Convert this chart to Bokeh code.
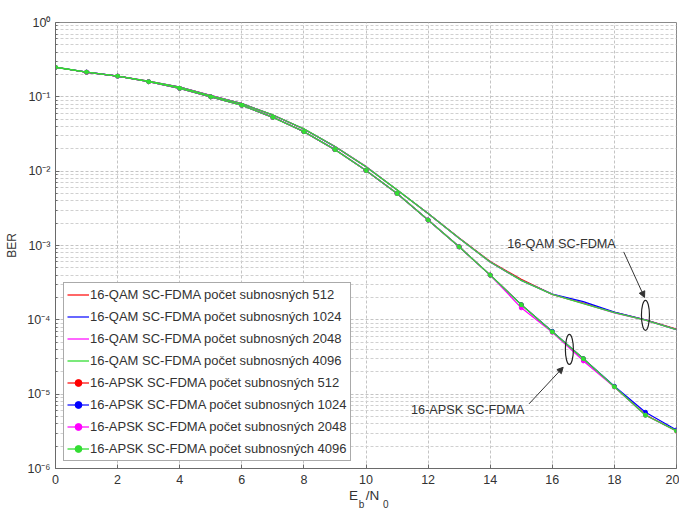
from bokeh.plotting import figure
from bokeh.models import (FixedTicker, CustomJSTickFormatter, Legend, LegendItem,
                          Label, Arrow, NormalHead, Range1d, LinearAxis)
from bokeh.embed import file_html
from bokeh.resources import INLINE

# ---------------- data ----------------
ebn0 = list(range(21))

qam_512 = [0.25, 0.214, 0.19, 0.162, 0.135, 0.104, 0.081, 0.057, 0.037, 0.0215, 0.0115,
           0.0056, 0.0027, 0.00126, 0.00061, 0.00035, 0.00022, 0.000168, 0.000126, 0.0001, 0.000075]
qam_1024 = [0.25, 0.215, 0.19, 0.162, 0.135, 0.104, 0.081, 0.057, 0.037, 0.0214, 0.0115,
            0.0056, 0.0027, 0.00125, 0.0006, 0.00034, 0.000222, 0.000176, 0.000127, 0.0001, 0.000074]
qam_2048 = [0.25, 0.215, 0.19, 0.163, 0.135, 0.105, 0.081, 0.057, 0.037, 0.0215, 0.0116,
            0.0056, 0.0027, 0.00125, 0.0006, 0.00034, 0.00022, 0.000166, 0.000124, 0.000099, 0.000074]
qam_4096 = [0.25, 0.215, 0.19, 0.162, 0.135, 0.104, 0.081, 0.057, 0.037, 0.0215, 0.0115,
            0.0056, 0.0027, 0.00125, 0.0006, 0.00034, 0.00022, 0.000165, 0.000125, 0.000099, 0.000074]

apsk_512 = [0.25, 0.214, 0.19, 0.16, 0.13, 0.1, 0.077, 0.053, 0.034, 0.0195, 0.0102,
            0.005, 0.0022, 0.00096, 0.0004, 0.00016, 0.000069, 0.00003, 0.0000126, 0.0000053, 0.0000032]
apsk_1024 = [0.25, 0.215, 0.19, 0.16, 0.13, 0.1, 0.077, 0.053, 0.034, 0.0195, 0.0102,
             0.005, 0.0022, 0.00096, 0.0004, 0.00016, 0.00007, 0.00003, 0.0000128, 0.0000057, 0.0000033]
apsk_2048 = [0.25, 0.215, 0.19, 0.16, 0.13, 0.1, 0.077, 0.053, 0.034, 0.0195, 0.0102,
             0.005, 0.0022, 0.00096, 0.0004, 0.000145, 0.000068, 0.000028, 0.0000125, 0.0000052, 0.0000032]
apsk_4096 = [0.25, 0.215, 0.19, 0.16, 0.13, 0.1, 0.077, 0.053, 0.034, 0.0195, 0.0102,
             0.005, 0.0022, 0.00096, 0.0004, 0.00016, 0.000069, 0.00003, 0.0000126, 0.0000052, 0.0000032]

labels_qam = ["16-QAM SC-FDMA počet subnosných 512", "16-QAM SC-FDMA počet subnosných 1024",
              "16-QAM SC-FDMA počet subnosných 2048", "16-QAM SC-FDMA počet subnosných 4096"]
labels_apsk = ["16-APSK SC-FDMA počet subnosných 512", "16-APSK SC-FDMA počet subnosných 1024",
               "16-APSK SC-FDMA počet subnosných 2048", "16-APSK SC-FDMA počet subnosných 4096"]
colors = ["#ff0000", "#0000ff", "#ff00ff", "#33dd33"]

y_major = [1e-6, 1e-5, 1e-4, 1e-3, 1e-2, 1e-1, 1e0]
y_minor = [k * d for d in y_major[:-1] for k in range(2, 10)]
x_ticks = list(range(0, 21, 2))

# x axis label pieces: "E_b/N_0"
xlabel_main = ["E", "/N"]
xlabel_sub = ["b", "0"]

FONT = "Liberation Sans"

p = figure(width=679, height=512, y_axis_type="log",
           x_range=Range1d(0, 20), y_range=Range1d(1e-6, 1),
           output_backend="svg", toolbar_location=None,
           min_border_left=55, min_border_right=3, min_border_top=22, min_border_bottom=10)
p.background_fill_color = "white"
p.border_fill_color = "white"
p.outline_line_color = "#8a8a8a"

# grids
for g in (p.xgrid, p.ygrid):
    g.grid_line_color = "#c4c4c4"
    g.grid_line_dash = "3 2"
    g.grid_line_width = 1
p.ygrid.minor_grid_line_color = "#d0d0d0"
p.ygrid.minor_grid_line_dash = "3 2"

# axes
p.xaxis.ticker = FixedTicker(ticks=x_ticks)
p.yaxis.ticker = FixedTicker(ticks=y_major, minor_ticks=y_minor)
p.yaxis.formatter = CustomJSTickFormatter(code="""
const e = Math.round(Math.log10(tick));
const sup = {'-':'\u207b','0':'\u2070','1':'\u00b9','2':'\u00b2','3':'\u00b3','4':'\u2074',
             '5':'\u2075','6':'\u2076','7':'\u2077','8':'\u2078','9':'\u2079'};
return '10' + String(e).split('').map(c => sup[c]).join('');
""")
for ax in (p.xaxis, p.yaxis):
    ax.major_tick_in = 4
    ax.major_tick_out = 0
    ax.minor_tick_in = 2
    ax.minor_tick_out = 0
    ax.axis_line_color = "#6a6a6a"
    ax.major_tick_line_color = "#6a6a6a"
    ax.minor_tick_line_color = "#6a6a6a"
    ax.major_label_text_font = FONT
    ax.major_label_text_font_size = "12.5px"
    ax.major_label_text_color = "#333333"
p.yaxis.axis_label = "BER"
p.yaxis.axis_label_text_font = FONT
p.yaxis.axis_label_text_font_size = "12px"
p.yaxis.axis_label_text_font_style = "normal"
p.yaxis.axis_label_text_color = "#333333"
p.xaxis.major_label_standoff = 6

# x axis label built from two extra, line-less axes (main letters + subscripts)
def label_axis(ticks, texts, size, standoff):
    ax = LinearAxis(ticker=FixedTicker(ticks=ticks, minor_ticks=[]),
                    formatter=CustomJSTickFormatter(args=dict(t=texts), code="return t[index];"))
    ax.axis_line_color = None
    ax.major_tick_line_color = None
    ax.minor_tick_line_color = None
    ax.major_tick_in = 0
    ax.major_tick_out = 0
    ax.minor_tick_in = 0
    ax.minor_tick_out = 0
    ax.major_label_standoff = standoff
    ax.major_label_text_font = FONT
    ax.major_label_text_font_size = size
    ax.major_label_text_color = "#333333"
    return ax

p.add_layout(label_axis([9.6, 10.21], xlabel_main, "13.5px", 1), "below")
p.add_layout(label_axis([9.86, 10.64], xlabel_sub, "10px", -7), "below")

# lines
qam_sets = [qam_512, qam_1024, qam_2048, qam_4096]
apsk_sets = [apsk_512, apsk_1024, apsk_2048, apsk_4096]
qam_r = [None] * 4
apsk_r = [None] * 4
for i in (0, 1, 2):
    qam_r[i] = [p.line(ebn0, qam_sets[i], line_color=colors[i], line_width=1.2)]
for i in (0, 1, 2):
    l = p.line(ebn0, apsk_sets[i], line_color=colors[i], line_width=1.2)
    s = p.scatter(ebn0, apsk_sets[i], marker="circle", size=4, fill_color=colors[i], line_color=colors[i])
    apsk_r[i] = [l, s]
qam_r[3] = [p.line(ebn0, qam_sets[3], line_color=colors[3], line_width=1.3)]
l = p.line(ebn0, apsk_sets[3], line_color=colors[3], line_width=1.3)
s = p.scatter(ebn0, apsk_sets[3], marker="circle", size=4, fill_color=colors[3], line_color=colors[3])
apsk_r[3] = [l, s]

items = [LegendItem(label=labels_qam[i], renderers=qam_r[i]) for i in range(4)] + \
        [LegendItem(label=labels_apsk[i], renderers=apsk_r[i]) for i in range(4)]
legend = Legend(items=items, location=(8, 7), orientation="vertical",
                label_text_font=FONT, label_text_font_size="13px", label_text_color="#333333",
                glyph_width=22, glyph_height=17, label_height=17, label_standoff=1,
                spacing=5, padding=3, margin=0,
                border_line_color="#555555", border_line_width=1,
                background_fill_color="white", background_fill_alpha=1)
p.add_layout(legend, "center")

# annotations: group labels, arrows, ellipses
ann_font_size = "12.7px"
p.add_layout(Label(x=14.55, y=1.05e-3, text="16-QAM SC-FDMA", text_font=FONT,
                   text_font_size=ann_font_size, text_color="#333333", text_baseline="middle"))
p.add_layout(Label(x=11.45, y=6.2e-6, text="16-APSK SC-FDMA", text_font=FONT,
                   text_font_size=ann_font_size, text_color="#333333", text_baseline="middle"))
p.add_layout(Arrow(x_start=18.3, y_start=8.2e-4, x_end=18.97, y_end=2.0e-4,
                   line_color="#333333", line_width=1,
                   end=NormalHead(size=6, fill_color="#333333", line_color="#333333")))
p.add_layout(Arrow(x_start=15.25, y_start=7.4e-6, x_end=16.35, y_end=2.3e-5,
                   line_color="#333333", line_width=1,
                   end=NormalHead(size=6, fill_color="#333333", line_color="#333333")))
p.ellipse(x=[19.0, 16.55], y=[1.15e-4, 4.0e-5], width=8, height=30,
          width_units="screen", height_units="screen",
          fill_alpha=0, line_color="#222222", line_width=1.2)

open("out.html", "w").write(file_html(p, INLINE))
